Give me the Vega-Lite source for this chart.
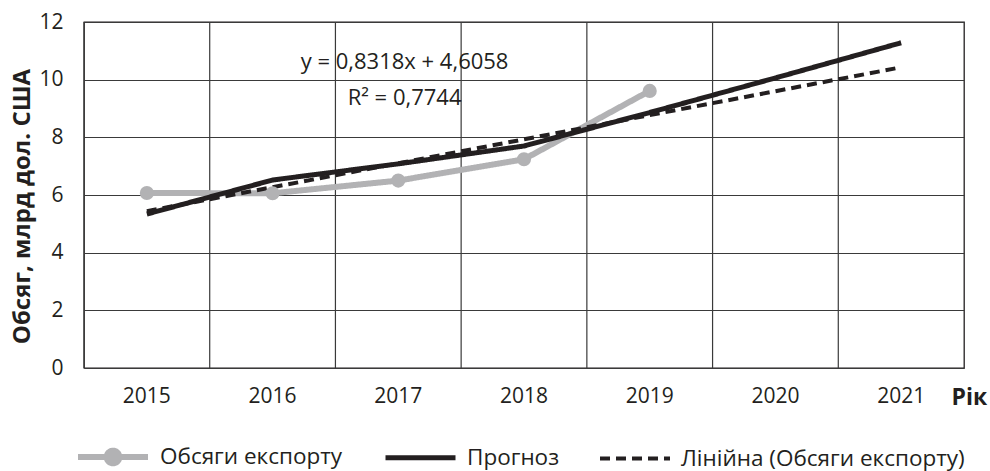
{
  "$schema": "https://vega.github.io/schema/vega-lite/v6.json",
  "width": 880,
  "height": 346,
  "autosize": {"type": "none"},
  "padding": {"left": 84, "top": 22, "right": 26, "bottom": 103},
  "background": "white",
  "config": {
    "font": "Open Sans",
    "view": {"stroke": "#231f20", "strokeWidth": 1.3},
    "axis": {
      "labelFont": "Open Sans",
      "labelFontSize": 21,
      "labelColor": "#231f20",
      "titleFont": "Open Sans",
      "titleFontSize": 23,
      "titleFontWeight": "bold",
      "titleColor": "#231f20",
      "domain": false,
      "ticks": false,
      "gridColor": "#3a3a3a",
      "gridOpacity": 1,
      "gridWidth": 1.2
    },
    "legend": {
      "labelFont": "Open Sans",
      "labelFontSize": 22.5,
      "labelColor": "#231f20",
      "labelLimit": 500
    }
  },
  "datasets": {
    "series": [
      {"year": "2015", "series": "Обсяги експорту", "value": 6.07},
      {"year": "2016", "series": "Обсяги експорту", "value": 6.06},
      {"year": "2017", "series": "Обсяги експорту", "value": 6.5},
      {"year": "2018", "series": "Обсяги експорту", "value": 7.24},
      {"year": "2019", "series": "Обсяги експорту", "value": 9.61},
      {"year": "2015", "series": "Прогноз", "value": 5.34},
      {"year": "2016", "series": "Прогноз", "value": 6.52},
      {"year": "2017", "series": "Прогноз", "value": 7.08},
      {"year": "2018", "series": "Прогноз", "value": 7.7},
      {"year": "2019", "series": "Прогноз", "value": 8.86},
      {"year": "2020", "series": "Прогноз", "value": 10.06},
      {"year": "2021", "series": "Прогноз", "value": 11.28},
      {"year": "2015", "series": "Лінійна (Обсяги експорту)", "value": 5.44},
      {"year": "2016", "series": "Лінійна (Обсяги експорту)", "value": 6.27},
      {"year": "2017", "series": "Лінійна (Обсяги експорту)", "value": 7.1},
      {"year": "2018", "series": "Лінійна (Обсяги експорту)", "value": 7.93},
      {"year": "2019", "series": "Лінійна (Обсяги експорту)", "value": 8.77},
      {"year": "2020", "series": "Лінійна (Обсяги експорту)", "value": 9.6},
      {"year": "2021", "series": "Лінійна (Обсяги експорту)", "value": 10.43}
    ],
    "notes": [
      {"year": "2017", "value": 10.61, "label": "y = 0,8318x + 4,6058"},
      {"year": "2017", "value": 9.38, "label": "R² = 0,7744"}
    ]
  },
  "layer": [
    {
      "data": {"name": "series"},
      "transform": [{"filter": "datum.series === 'Прогноз'"}],
      "mark": {"type": "rule", "color": "#3a3a3a", "strokeWidth": 1.2},
      "encoding": {
        "x": {"field": "year", "type": "ordinal", "bandPosition": 0,
              "scale": {"type": "band", "paddingInner": 0, "paddingOuter": 0},
              "axis": {"title": "Рік", "labelAngle": 0, "labelPadding": 17, "grid": false, "bandPosition": 0.5,
                       "titleX": 867, "titleY": 29, "titleAlign": "left", "titleBaseline": "middle"}}
      }
    },
    {
      "data": {"name": "series"},
      "mark": {"type": "line"},
      "encoding": {
        "x": {"field": "year", "type": "ordinal",
              "scale": {"type": "band", "paddingInner": 0, "paddingOuter": 0},
              "axis": {"title": "Рік", "labelAngle": 0, "labelPadding": 17, "grid": false, "bandPosition": 0.5,
                       "titleX": 867, "titleY": 29, "titleAlign": "left", "titleBaseline": "middle"}},
        "y": {"field": "value", "type": "quantitative",
              "scale": {"domain": [0, 12], "nice": false, "zero": true},
              "axis": {"title": "Обсяг, млрд дол. США", "values": [0, 2, 4, 6, 8, 10, 12],
                       "labelPadding": 21, "grid": true, "titleFontSize": 24,
                       "titleX": -62, "titleY": 184, "titleAngle": -90, "titleAlign": "center", "titleBaseline": "middle"}},
        "color": {"field": "series", "type": "nominal",
                  "scale": {"domain": ["Обсяги експорту", "Прогноз", "Лінійна (Обсяги експорту)"],
                            "range": ["#b2b2b4", "#231f20", "#231f20"]},
                  "legend": {"title": null, "orient": "none", "direction": "horizontal",
                             "legendX": -9, "legendY": 397,
                             "symbolSize": 4900, "symbolStrokeWidth": 4,
                             "labelOffset": 9, "columnPadding": 32,
                             "encoding": {
                               "symbols": {
                                 "shape": {"condition": {"test": "datum.value === 'Обсяги експорту'", "value": "M-1,0L1,0M-0.18,0A0.18,0.18 0 1,1 0.18,0A0.18,0.18 0 1,1 -0.18,0M0,-1M0,1"}, "value": "M-1,0L1,0M0,-1M0,1"},
                                 "fill": {"condition": {"test": "datum.value === 'Обсяги експорту'", "value": "#b2b2b4"}, "value": "transparent"},
                                 "strokeWidth": {"condition": [{"test": "datum.value === 'Обсяги експорту'", "value": 7}, {"test": "datum.value === 'Прогноз'", "value": 4}], "value": 3},
                                 "strokeDash": {"condition": {"test": "datum.value === 'Лінійна (Обсяги експорту)'", "value": [14, 7]}, "value": [1, 0]}
                               }
                             }}},
        "strokeDash": {"field": "series", "type": "nominal",
                       "scale": {"domain": ["Обсяги експорту", "Прогноз", "Лінійна (Обсяги експорту)"],
                                 "range": [[1, 0], [1, 0], [10, 6]]}},
        "strokeWidth": {"field": "series", "type": "nominal",
                        "scale": {"domain": ["Обсяги експорту", "Прогноз", "Лінійна (Обсяги експорту)"],
                                  "range": [6, 4, 2.6]},
                        "legend": null}
      }
    },
    {
      "data": {"name": "series"},
      "transform": [{"filter": "datum.series === 'Обсяги експорту'"}],
      "mark": {"type": "point", "filled": true, "size": 200, "color": "#b2b2b4", "opacity": 1},
      "encoding": {
        "x": {"field": "year", "type": "ordinal",
              "scale": {"type": "band", "paddingInner": 0, "paddingOuter": 0}},
        "y": {"field": "value", "type": "quantitative"}
      }
    },
    {
      "data": {"name": "notes"},
      "mark": {"type": "text", "font": "Open Sans", "fontSize": 22, "color": "#231f20", "align": "center", "baseline": "middle"},
      "encoding": {
        "x": {"field": "year", "type": "ordinal", "bandPosition": 0.55,
              "scale": {"type": "band", "paddingInner": 0, "paddingOuter": 0}},
        "y": {"field": "value", "type": "quantitative"},
        "text": {"field": "label"}
      }
    }
  ]
}
